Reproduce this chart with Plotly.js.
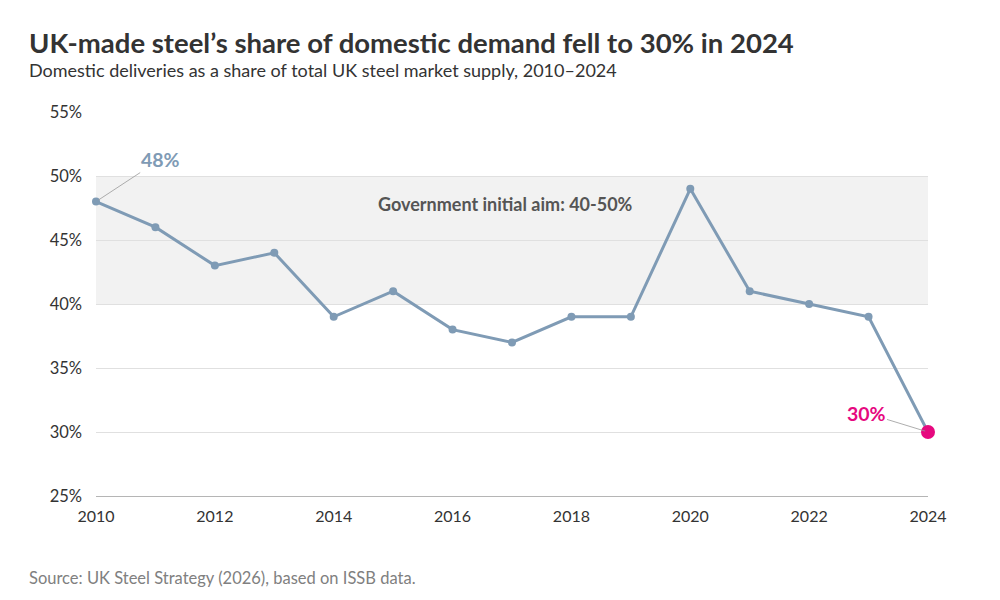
<!DOCTYPE html>
<html>
<head>
<meta charset="utf-8">
<script src="https://cdn.plot.ly/plotly-3.0.1.min.js"></script>
<style>html,body{margin:0;padding:0;background:#fff;}#chart{width:1000px;height:600px;}</style>
</head>
<body>
<div id="chart"></div>
<script>
const years = [2010,2011,2012,2013,2014,2015,2016,2017,2018,2019,2020,2021,2022,2023,2024];
const share = [48,46,43,44,39,41,38,37,39,39,49,41,40,39,30];
const yTicks = [25,30,35,40,45,50,55];
const xTicks = [2010,2012,2014,2016,2018,2020,2022,2024];
const aimLow = 40, aimHigh = 50;

const lineColor = '#7f9bb5';
const pink = '#e6097f';
const font = 'Lato, "Open Sans", sans-serif';

const n = years.length;
const traces = [
  {
    x: years, y: share, type: 'scatter', mode: 'lines+markers',
    line: {color: lineColor, width: 3},
    marker: {color: lineColor, size: 8},
    cliponaxis: false, hoverinfo: 'x+y', showlegend: false
  },
  {
    x: [years[n-1]], y: [share[n-1]], type: 'scatter', mode: 'markers',
    marker: {color: pink, size: 14},
    cliponaxis: false, showlegend: false
  }
];

const layout = {
  width: 1000, height: 600,
  margin: {l: 96, r: 72, t: 112, b: 104},
  paper_bgcolor: '#fff', plot_bgcolor: '#fff',
  font: {family: font, color: '#333'},
  xaxis: {
    range: [2010, 2024], tickvals: xTicks, ticktext: xTicks.map(String),
    showgrid: false, zeroline: false, showline: true, linecolor: '#b5b5b5', linewidth: 1,
    ticks: '', tickfont: {size: 16, color: '#333'}, ticklabelstandoff: 6
  },
  yaxis: {
    range: [25, 55], tickvals: yTicks, ticktext: yTicks.map(v => v + '%'),
    showgrid: true, gridcolor: '#e0e0e0', gridwidth: 1, zeroline: false,
    ticks: '', tickfont: {size: 16.5, color: '#333'}, ticklabelstandoff: 13
  },
  shapes: [
    {type: 'rect', xref: 'paper', yref: 'y', x0: 0, x1: 1, y0: aimLow, y1: aimHigh,
     fillcolor: '#f2f2f2', line: {width: 0}, layer: 'below'}
  ],
  annotations: [
    {xref: 'paper', yref: 'paper', x: -0.083, y: 1.182, xanchor: 'left', yanchor: 'middle',
     text: 'UK-made steel’s share of domestic demand fell to 30% in 2024', showarrow: false,
     font: {size: 27.5, color: '#333', family: font, weight: 700}},
    {xref: 'paper', yref: 'paper', x: -0.083, y: 1.109, xanchor: 'left', yanchor: 'middle',
     text: 'Domestic deliveries as a share of total UK steel market supply, 2010–2024', showarrow: false,
     font: {size: 18, color: '#333', family: font}},
    {xref: 'paper', yref: 'paper', x: -0.083, y: -0.2135, xanchor: 'left', yanchor: 'middle',
     text: 'Source: UK Steel Strategy (2026), based on ISSB data.', showarrow: false,
     font: {size: 16.5, color: '#808080', family: font}},
    {xref: 'paper', yref: 'y', x: 0.4916, y: 47.8, xanchor: 'center', yanchor: 'middle',
     text: 'Government initial aim: 40-50%', showarrow: false,
     font: {size: 18, color: '#555', family: font, weight: 700}},
    {x: years[0], y: share[0], xref: 'x', yref: 'y', text: share[0] + '%',
     showarrow: true, arrowhead: 0, arrowwidth: 0.8, arrowcolor: '#999', ax: 64, ay: -42, standoff: 3,
     font: {size: 19.5, color: lineColor, family: font, weight: 700}},
    {x: years[n-1], y: share[n-1], xref: 'x', yref: 'y', text: share[n-1] + '%',
     showarrow: true, arrowhead: 0, arrowwidth: 0.8, arrowcolor: '#999', ax: -62, ay: -19, standoff: 3,
     font: {size: 19.5, color: pink, family: font, weight: 700}}
  ]
};

Plotly.newPlot('chart', traces, layout, {displayModeBar: false, staticPlot: true});
</script>
</body>
</html>
